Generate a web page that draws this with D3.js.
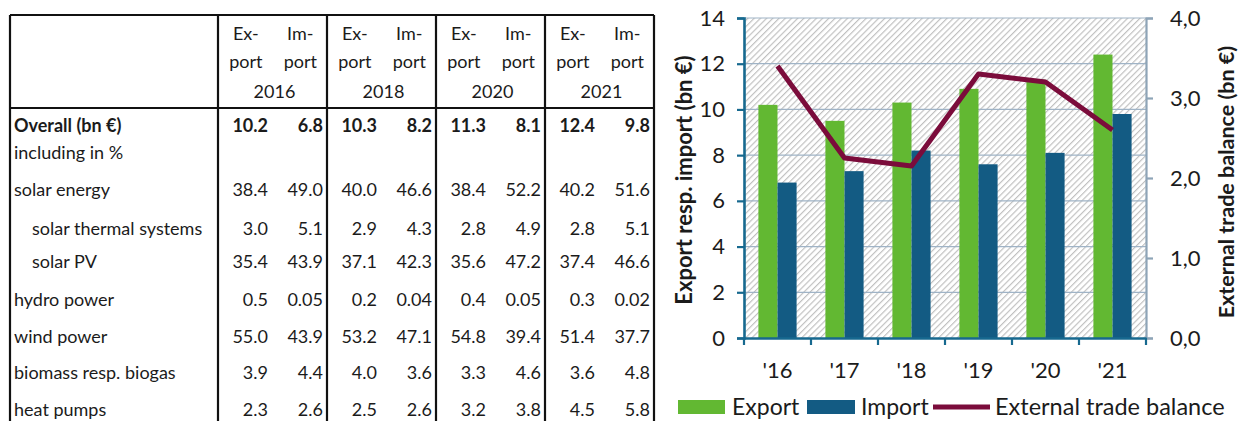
<!DOCTYPE html>
<html>
<head>
<meta charset="utf-8">
<script src="https://cdn.jsdelivr.net/npm/d3@7"></script>
<style>
  body { margin: 0; background: #fff; }
  svg { display: block; }
  text { font-family: Lato, "Open Sans", sans-serif; fill: #1b1b1b; }
</style>
</head>
<body>
<svg id="fig" width="1243" height="421"></svg>
<script>
// ---- chart data (bn €) ----
const years = ["'16", "'17", "'18", "'19", "'20", "'21"];
const exportBn = [10.2, 9.5, 10.3, 10.9, 11.3, 12.4];
const importBn = [6.8, 7.3, 8.2, 7.6, 8.1, 9.8];
const balanceBn = [3.4, 2.25, 2.15, 3.3, 3.2, 2.6];
const leftTicks = [0, 2, 4, 6, 8, 10, 12, 14];
const rightTicks = [0, 1, 2, 3, 4];

// ---- table data ----
const tableYears = ["2016", "2018", "2020", "2021"];
const rowLabels = ["Overall (bn €)", "including in %", "solar energy", "solar thermal systems",
  "solar PV", "hydro power", "wind power", "biomass resp. biogas", "heat pumps"];
const rowIndented = [false, false, false, true, true, false, false, false, false];
const overallRow = ["10.2", "6.8", "10.3", "8.2", "11.3", "8.1", "12.4", "9.8"];
const includingRow = [];
const solarRow = ["38.4", "49.0", "40.0", "46.6", "38.4", "52.2", "40.2", "51.6"];
const solarThermalRow = ["3.0", "5.1", "2.9", "4.3", "2.8", "4.9", "2.8", "5.1"];
const solarPvRow = ["35.4", "43.9", "37.1", "42.3", "35.6", "47.2", "37.4", "46.6"];
const hydroRow = ["0.5", "0.05", "0.2", "0.04", "0.4", "0.05", "0.3", "0.02"];
const windRow = ["55.0", "43.9", "53.2", "47.1", "54.8", "39.4", "51.4", "37.7"];
const biomassRow = ["3.9", "4.4", "4.0", "3.6", "3.3", "4.6", "3.6", "4.8"];
const heatPumpRow = ["2.3", "2.6", "2.5", "2.6", "3.2", "3.8", "4.5", "5.8"];
const tableRows = [overallRow, includingRow, solarRow, solarThermalRow, solarPvRow,
  hydroRow, windRow, biomassRow, heatPumpRow];

const svg = d3.select("#fig");

// ================= table =================
const T = { left: 10, top: 15, right: 654, bottom: 440, labelRight: 218, headBottom: 108 };
const rowCenters = [126, 153, 190, 229, 262, 300, 337, 373, 410];
const groupX = d3.scaleBand().domain(tableYears).range([T.labelRight, T.right]);
const tbl = svg.append("g");

tableRows.forEach((vals, r) => {
  const y = rowCenters[r];
  tbl.append("text")
    .attr("x", rowIndented[r] ? 32 : 14).attr("y", y)
    .attr("dy", "0.35em")
    .style("font-size", "18px")
    .style("font-weight", r === 0 ? 700 : 400)
    .text(rowLabels[r]);
  vals.forEach((v, i) => {
    const g = groupX(tableYears[Math.floor(i / 2)]);
    const xr = i % 2 === 0 ? g + 50 : g + groupX.bandwidth() - 4;
    tbl.append("text")
      .attr("x", xr).attr("y", y).attr("dy", "0.35em")
      .attr("text-anchor", "end")
      .style("font-size", "18px")
      .style("font-weight", r === 0 ? 700 : 400)
      .text(v);
  });
});

tableYears.forEach(yr => {
  const g = groupX(yr), w = groupX.bandwidth();
  [["Ex-", "port", g + w * 0.255], ["Im-", "port", g + w * 0.755]].forEach(([a, b, cx]) => {
    tbl.append("text").attr("x", cx).attr("y", 34).attr("dy", "0.35em")
      .attr("text-anchor", "middle").style("font-size", "18px").text(a);
    tbl.append("text").attr("x", cx).attr("y", 62).attr("dy", "0.35em")
      .attr("text-anchor", "middle").style("font-size", "18px").text(b);
  });
  tbl.append("text").attr("x", g + w / 2 + 2).attr("y", 92).attr("dy", "0.35em")
    .attr("text-anchor", "middle").style("font-size", "18px").text(yr);
});

// table rules
const rule = (x1, y1, x2, y2) => tbl.append("line")
  .attr("x1", x1).attr("y1", y1).attr("x2", x2).attr("y2", y2)
  .attr("stroke", "#111").attr("stroke-width", 2.2);
rule(T.left, T.top, T.right, T.top);
rule(T.left, T.headBottom, T.right, T.headBottom);
rule(T.left, T.top, T.left, T.bottom);
rule(T.labelRight, T.top, T.labelRight, T.bottom);
tableYears.forEach(yr => {
  const xr = groupX(yr) + groupX.bandwidth();
  rule(xr, T.top, xr, T.bottom);
});

// ================= chart =================
const P = { left: 744, right: 1146, top: 18, bottom: 338 };
const x = d3.scaleBand().domain(years).range([P.left, P.right]);
const yL = d3.scaleLinear().domain([0, 14]).range([P.bottom, P.top]);
const yR = d3.scaleLinear().domain([0, 4]).range([P.bottom, P.top]);

const defs = svg.append("defs");
const hs = 4.4;
const pat = defs.append("pattern").attr("id", "hatch")
  .attr("patternUnits", "userSpaceOnUse").attr("width", hs).attr("height", hs)
  .attr("patternTransform", "rotate(45)");
pat.append("rect").attr("width", hs).attr("height", hs).attr("fill", "#fff");
pat.append("line").attr("x1", 0.6).attr("y1", 0).attr("x2", 0.6).attr("y2", hs)
  .attr("stroke", "#bdbdbd").attr("stroke-width", 1.1);

const chart = svg.append("g");
chart.append("rect")
  .attr("x", P.left).attr("y", P.top)
  .attr("width", P.right - P.left).attr("height", P.bottom - P.top)
  .attr("fill", "url(#hatch)");

// horizontal gridlines
chart.append("g").selectAll("line").data(leftTicks.filter(d => d > 0)).join("line")
  .attr("x1", P.left).attr("x2", P.right)
  .attr("y1", d => yL(d)).attr("y2", d => yL(d))
  .attr("stroke", "#9fb3c6").attr("stroke-width", 1.2);

// bars
const groupW = x.bandwidth() * 0.57;
const barW = groupW / 2;
const gOff = (x.bandwidth() - groupW) / 2;
chart.append("g").selectAll("rect").data(years).join("rect")
  .attr("x", d => x(d) + gOff)
  .attr("y", (d, i) => yL(exportBn[i]))
  .attr("width", barW)
  .attr("height", (d, i) => yL(0) - yL(exportBn[i]))
  .attr("fill", "#62b832");
chart.append("g").selectAll("rect").data(years).join("rect")
  .attr("x", d => x(d) + gOff + barW)
  .attr("y", (d, i) => yL(importBn[i]))
  .attr("width", barW)
  .attr("height", (d, i) => yL(0) - yL(importBn[i]))
  .attr("fill", "#135b83");

// right axis
const rightAxis = chart.append("g").attr("transform", `translate(${P.right},0)`)
  .call(d3.axisRight(yR).tickValues(rightTicks).tickSize(7).tickPadding(17)
    .tickFormat(d => d3.format(".1f")(d).replace(".", ",")));
rightAxis.select(".domain").attr("stroke", "#8ea4b7").attr("stroke-width", 2.2);
rightAxis.selectAll(".tick line").attr("stroke", "#8ea4b7").attr("stroke-width", 2.2);
rightAxis.selectAll("text").style("font-family", "Lato, sans-serif")
  .style("font-size", "22px").attr("fill", "#1b1b1b");

// left axis
const leftAxis = chart.append("g").attr("transform", `translate(${P.left},0)`)
  .call(d3.axisLeft(yL).tickValues(leftTicks).tickSize(7).tickPadding(12));
leftAxis.select(".domain").attr("stroke", "#17698f").attr("stroke-width", 2.6);
leftAxis.selectAll(".tick line").attr("stroke", "#17698f").attr("stroke-width", 2.2);
leftAxis.selectAll("text").style("font-family", "Lato, sans-serif")
  .style("font-size", "22px").attr("fill", "#1b1b1b");

// bottom axis
const bottomAxis = chart.append("g").attr("transform", `translate(0,${P.bottom})`)
  .call(d3.axisBottom(x).tickSize(0).tickPadding(24));
bottomAxis.select(".domain").attr("stroke", "#17698f").attr("stroke-width", 2.6);
bottomAxis.selectAll("text").style("font-family", "Lato, sans-serif")
  .style("font-size", "22px").attr("fill", "#1b1b1b");
chart.append("g").selectAll("line").data(years.concat(["end"])).join("line")
  .attr("x1", (d, i) => P.left + i * x.step()).attr("x2", (d, i) => P.left + i * x.step())
  .attr("y1", P.bottom).attr("y2", P.bottom + 7)
  .attr("stroke", "#17698f").attr("stroke-width", 2.2);

// balance line
chart.append("path")
  .datum(balanceBn)
  .attr("d", d3.line().x((d, i) => x(years[i]) + x.bandwidth() / 2).y(d => yR(d)))
  .attr("fill", "none").attr("stroke", "#7b0c3b").attr("stroke-width", 5)
  .attr("stroke-linejoin", "round");

// axis titles
chart.append("text")
  .attr("transform", `translate(684,${(P.top + P.bottom) / 2 + 2}) rotate(-90)`)
  .attr("text-anchor", "middle").attr("dy", "0.35em")
  .style("font-size", "22px").style("font-weight", 700)
  .text("Export resp. import (bn €)");
chart.append("text")
  .attr("transform", `translate(1226,${(P.top + P.bottom) / 2 + 4}) rotate(-90)`)
  .attr("text-anchor", "middle").attr("dy", "0.35em")
  .style("font-size", "21.5px").style("font-weight", 700)
  .text("External trade balance (bn €)");

// legend
const lg = chart.append("g");
lg.append("rect").attr("x", 678).attr("y", 400).attr("width", 47).attr("height", 14).attr("fill", "#62b832");
lg.append("text").attr("x", 732).attr("y", 407).attr("dy", "0.35em").style("font-size", "23px").text("Export");
lg.append("rect").attr("x", 807).attr("y", 400).attr("width", 48).attr("height", 14).attr("fill", "#135b83");
lg.append("text").attr("x", 861).attr("y", 407).attr("dy", "0.35em").style("font-size", "23px").text("Import");
lg.append("line").attr("x1", 933).attr("x2", 990).attr("y1", 407).attr("y2", 407)
  .attr("stroke", "#7b0c3b").attr("stroke-width", 5);
lg.append("text").attr("x", 995).attr("y", 407).attr("dy", "0.35em").style("font-size", "23.5px").text("External trade balance");
</script>
</body>
</html>
